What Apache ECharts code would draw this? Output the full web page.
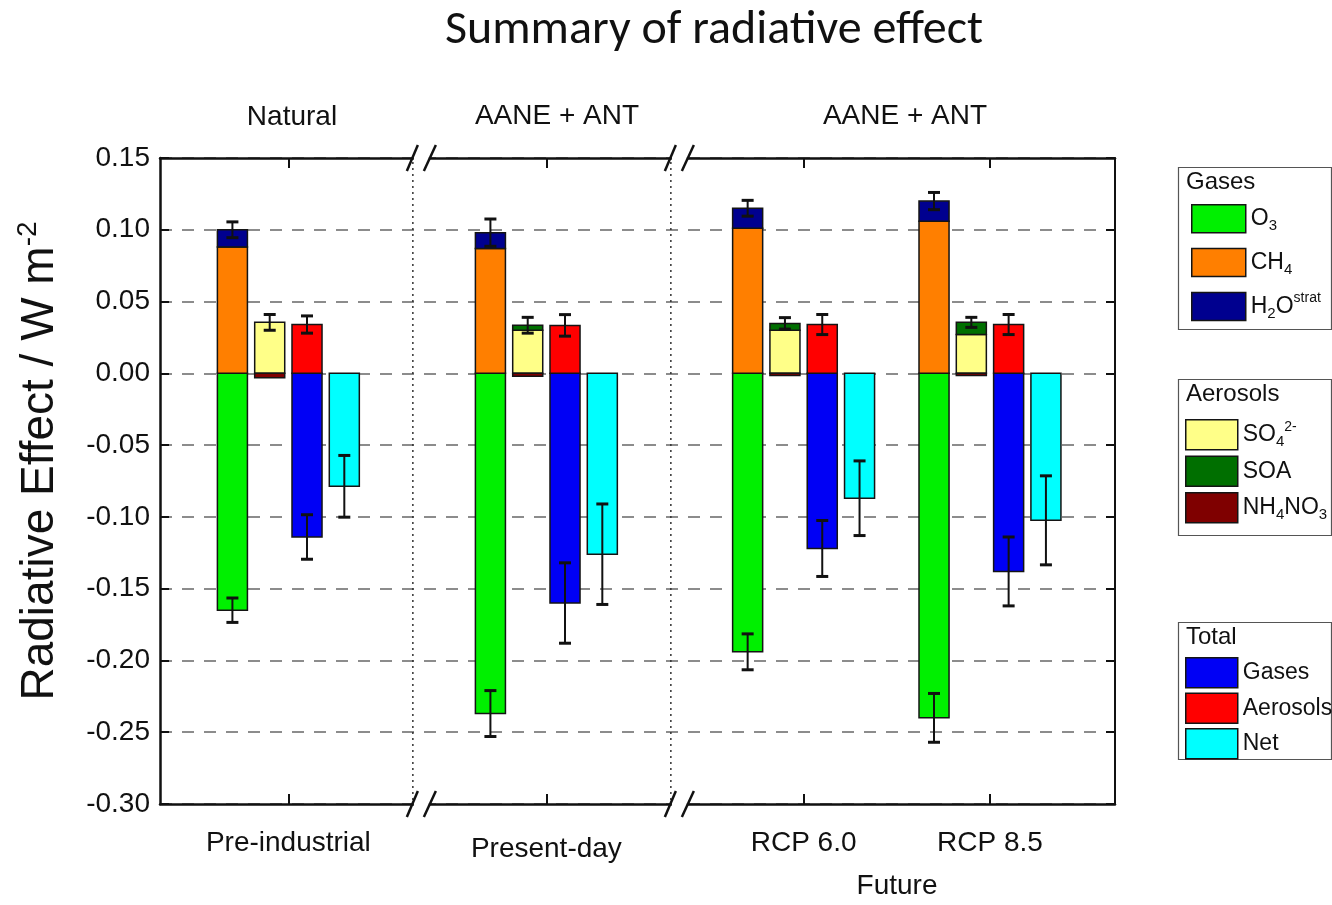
<!DOCTYPE html>
<html>
<head>
<meta charset="utf-8">
<script src="https://cdn.jsdelivr.net/npm/echarts@6/dist/echarts.min.js"></script>
<style>
  html, body { margin: 0; padding: 0; background: #ffffff; }
  #chart { width: 1332px; height: 905px; }
</style>
</head>
<body>
<div id="chart"></div>
<script>
// ---- Data (radiative effect, W m-2) ----
const scenarios = ['Pre-industrial', 'Present-day', 'RCP 6.0', 'RCP 8.5'];
const periodLabels = ['Natural', 'AANE + ANT', 'AANE + ANT'];
const futureLabel = 'Future';

// gas-phase species
const o3 = [-0.165, -0.237, -0.194, -0.240];
const o3Err = [0.0085, 0.016, 0.0125, 0.017];
const ch4 = [0.088, 0.087, 0.101, 0.106];
const h2oStrat = [0.012, 0.011, 0.014, 0.014];
const gasPositiveErr = [0.0055, 0.0095, 0.0055, 0.006];

// aerosol species
const so4 = [0.0355, 0.030, 0.030, 0.027];
const soa = [0, 0.0035, 0.0048, 0.0085];
const nh4no3 = [-0.003, -0.002, -0.0015, -0.0015];
const aerosolSpeciesErr = [0.0055, 0.0055, 0.004, 0.0035];

// totals
const gasTotal = [-0.114, -0.160, -0.122, -0.138];
const gasTotalErr = [0.0155, 0.028, 0.0195, 0.024];
const aerosolTotal = [0.034, 0.0334, 0.034, 0.034];
const aerosolTotalErr = [0.006, 0.0075, 0.007, 0.007];
const netTotal = [-0.0787, -0.126, -0.087, -0.1024];
const netErr = [0.0215, 0.035, 0.026, 0.031];

// ---- Layout of the broken x axis (axis units) ----
const X_MAX = 3.72;
const GROUP_X = [0.5, 1.505, 2.507, 3.233];
const BREAK_X = [1.02, 2.025];
const SLOT_STEP = 0.1453;
const BAR_W = 0.117;
const Y_MIN = -0.30, Y_MAX = 0.15;

const FONT = '"Liberation Sans", Arial, sans-serif';

const COLORS = {
  o3: '#00f000', ch4: '#ff7f00', h2o: '#00008f',
  so4: '#ffff88', soa: '#006f00', nh4no3: '#7f0000',
  gas: '#0000f5', aer: '#ff0000', net: '#00ffff'
};

function slotCenter(i, slot) {
  return GROUP_X[i] + (slot - 1.5) * SLOT_STEP;
}

function barRenderer(slot, color) {
  return function (params, api) {
    const i = api.value(0);
    const lo = api.value(1), hi = api.value(2);
    if (hi - lo <= 0) return null;
    const c = slotCenter(i, slot);
    const p0 = api.coord([c - BAR_W / 2, hi]);
    const p1 = api.coord([c + BAR_W / 2, lo]);
    return {
      type: 'rect',
      shape: { x: p0[0], y: p0[1], width: p1[0] - p0[0], height: p1[1] - p0[1] },
      style: { fill: color, stroke: '#141414', lineWidth: 1.5 }
    };
  };
}

function barSeries(name, slot, color, lows, highs) {
  return {
    type: 'custom',
    name: name,
    coordinateSystem: 'cartesian2d',
    itemStyle: { color: color },
    encode: { x: 0, y: [1, 2] },
    data: scenarios.map((_, i) => [i, lows[i], highs[i]]),
    renderItem: barRenderer(slot, color),
    z: 3
  };
}

const zeros = scenarios.map(() => 0);
const gasTop = ch4.map((v, i) => v + h2oStrat[i]);
const aerTop = so4.map((v, i) => v + soa[i]);

// error bars: [scenario, slot, centre, half-width]
const errData = [];
scenarios.forEach((_, i) => {
  errData.push([i, 0, gasTop[i], gasPositiveErr[i]]);
  errData.push([i, 0, o3[i], o3Err[i]]);
  errData.push([i, 1, aerTop[i], aerosolSpeciesErr[i]]);
  errData.push([i, 2, aerosolTotal[i], aerosolTotalErr[i]]);
  errData.push([i, 2, gasTotal[i], gasTotalErr[i]]);
  errData.push([i, 3, netTotal[i], netErr[i]]);
});

function errRenderer(params, api) {
  const i = api.value(0), slot = api.value(1);
  const m = api.value(2), e = api.value(3);
  const c = slotCenter(i, slot);
  const top = api.coord([c, m + e]);
  const bot = api.coord([c, m - e]);
  const cap = 6;
  return {
    type: 'group',
    children: [
      { type: 'line', shape: { x1: top[0], y1: top[1], x2: bot[0], y2: bot[1] },
        style: { stroke: '#111', lineWidth: 2 } },
      { type: 'line', shape: { x1: top[0] - cap, y1: top[1], x2: top[0] + cap, y2: top[1] },
        style: { stroke: '#111', lineWidth: 3 } },
      { type: 'line', shape: { x1: bot[0] - cap, y1: bot[1], x2: bot[0] + cap, y2: bot[1] },
        style: { stroke: '#111', lineWidth: 3 } }
    ]
  };
}

// axis breaks: dotted separator plus "//" marks on both horizontal frame lines
function breakRenderer(params, api) {
  const bx = api.value(0);
  const x = api.coord([bx, 0])[0];
  const yT = api.coord([bx, Y_MAX])[1];
  const yB = api.coord([bx, Y_MIN])[1];
  const kids = [
    { type: 'line', shape: { x1: x - 9, y1: yT + 4, x2: x - 9, y2: yB - 4 },
      style: { stroke: '#333', lineWidth: 1.5, lineDash: [2, 4] } }
  ];
  [yT, yB].forEach(y => {
    kids.push({ type: 'rect', shape: { x: x - 8, y: y - 4, width: 15, height: 8 },
      style: { fill: '#fff' } });
    kids.push({ type: 'line', shape: { x1: x - 15, y1: y + 13, x2: x - 4, y2: y - 13 },
      style: { stroke: '#111', lineWidth: 2.5 } });
    kids.push({ type: 'line', shape: { x1: x + 2, y1: y + 13, x2: x + 14, y2: y - 13 },
      style: { stroke: '#111', lineWidth: 2.5 } });
  });
  return { type: 'group', children: kids };
}

const legendRich = {
  t: { fontSize: 23, fontFamily: FONT, color: '#111', lineHeight: 30 },
  sub: { fontSize: 15, fontFamily: FONT, color: '#111', lineHeight: 16, verticalAlign: 'bottom' },
  sup: { fontSize: 14, fontFamily: FONT, color: '#111', lineHeight: 14, verticalAlign: 'top' }
};
const legendText = {
  'O3': '{t|O}{sub|3}',
  'CH4': '{t|CH}{sub|4}',
  'H2O strat': '{t|H}{sub|2}{t|O}{sup|strat}',
  'SO4 2-': '{t|SO}{sub|4}{sup|2-}',
  'SOA': '{t|SOA}',
  'NH4NO3': '{t|NH}{sub|4}{t|NO}{sub|3}',
  'Gases total': '{t|Gases}',
  'Aerosols total': '{t|Aerosols}',
  'Net': '{t|Net}'
};
function makeLegend(names, left, top, w, h, gap) {
  return {
    data: names, left: left, top: top, orient: 'vertical',
    itemWidth: w, itemHeight: h, itemGap: gap, icon: 'rect',
    selectedMode: false,
    itemStyle: { borderColor: '#141414', borderWidth: 1.5 },
    formatter: name => legendText[name],
    textStyle: { rich: legendRich, padding: [0, 0, 0, 0] }
  };
}

function boxGraphic(x, y, w, h, title) {
  return [
    { type: 'rect', left: x, top: y, shape: { width: w, height: h },
      style: { fill: 'none', stroke: '#555', lineWidth: 1.2 }, silent: true },
    { type: 'text', left: x + 10, top: y + 5,
      style: { text: title, font: '24px ' + FONT, fill: '#111' }, silent: true }
  ];
}

function centredText(text, x, y) {
  return { type: 'text', x: x, y: y, silent: true,
    style: { text: text, font: '28px ' + FONT, fill: '#111', align: 'center', verticalAlign: 'middle' } };
}

const chart = echarts.init(document.getElementById('chart'), null, { renderer: 'canvas' });

chart.setOption({
  animation: false,
  backgroundColor: '#ffffff',
  title: {
    text: 'Summary of radiative effect',
    left: 709, top: 2, textAlign: 'center',
    textStyle: { fontFamily: 'Carlito, Lato, sans-serif', fontSize: 48, fontWeight: 'normal', color: '#111' }
  },
  grid: { left: 160, right: 217, top: 158, bottom: 101 },
  xAxis: [
    {
      type: 'value', min: 0, max: X_MAX, position: 'bottom',
      axisLine: { show: true, onZero: false, lineStyle: { color: '#111', width: 2.5 } },
      axisTick: { show: true, inside: true, length: 10, customValues: GROUP_X,
                  lineStyle: { color: '#111', width: 2 } },
      axisLabel: {
        show: true, customValues: GROUP_X, margin: 25,
        fontFamily: FONT, fontSize: 28, color: '#111',
        rich: { low: { fontFamily: FONT, fontSize: 28, color: '#111', padding: [6, 0, 0, 0] } },
        formatter: v => {
          const k = GROUP_X.findIndex(g => Math.abs(g - v) < 1e-6);
          if (k < 0) return '';
          return k === 1 ? '{low|' + scenarios[k] + '}' : scenarios[k];
        }
      },
      splitLine: { show: false }
    },
    {
      type: 'value', min: 0, max: X_MAX, position: 'top',
      axisLine: { show: true, onZero: false, lineStyle: { color: '#111', width: 2.5 } },
      axisTick: { show: true, inside: true, length: 10, customValues: GROUP_X,
                  lineStyle: { color: '#111', width: 2 } },
      axisLabel: { show: false },
      splitLine: { show: false }
    }
  ],
  yAxis: [
    {
      type: 'value', min: Y_MIN, max: Y_MAX, interval: 0.05, position: 'left',
      name: '{a|Radiative Effect / W m}{s|-2}',
      nameLocation: 'middle', nameGap: 94, nameRotate: 90,
      nameTextStyle: {
        padding: [0, 0, 0, 40],
        rich: {
          a: { fontFamily: FONT, fontSize: 46, color: '#111', lineHeight: 52 },
          s: { fontFamily: FONT, fontSize: 28, color: '#111', lineHeight: 28, verticalAlign: 'top' }
        }
      },
      axisLine: { show: true, onZero: false, lineStyle: { color: '#111', width: 2.5 } },
      axisTick: { show: true, inside: true, length: 9, lineStyle: { color: '#111', width: 2 } },
      axisLabel: { fontFamily: FONT, fontSize: 28, color: '#111', margin: 10,
                   formatter: v => v.toFixed(2) },
      splitLine: { show: true, lineStyle: { color: '#8c8c8c', width: 2, type: [12, 10] } }
    },
    {
      type: 'value', min: Y_MIN, max: Y_MAX, interval: 0.05, position: 'right',
      axisLine: { show: true, onZero: false, lineStyle: { color: '#111', width: 2 } },
      axisTick: { show: true, inside: true, length: 9, lineStyle: { color: '#111', width: 2 } },
      axisLabel: { show: false },
      splitLine: { show: false }
    }
  ],
  legend: [
    makeLegend(['O3', 'CH4', 'H2O strat'], 1186, 199, 54, 28, 14),
    makeLegend(['SO4 2-', 'SOA', 'NH4NO3'], 1180, 414, 52, 30, 5),
    makeLegend(['Gases total', 'Aerosols total', 'Net'], 1180, 652, 52, 30, 4)
  ],
  graphic: [
    ...boxGraphic(1176, 165, 153, 162, 'Gases'),
    ...boxGraphic(1176, 377, 153, 156, 'Aerosols'),
    ...boxGraphic(1176, 620, 153, 137, 'Total'),
    centredText(periodLabels[0], 292, 117),
    centredText(periodLabels[1], 557, 116),
    centredText(periodLabels[2], 905, 116),
    centredText(futureLabel, 897, 886)
  ],
  series: [
    barSeries('O3', 0, COLORS.o3, o3, zeros),
    barSeries('CH4', 0, COLORS.ch4, zeros, ch4),
    barSeries('H2O strat', 0, COLORS.h2o, ch4, gasTop),
    barSeries('SO4 2-', 1, COLORS.so4, zeros, so4),
    barSeries('SOA', 1, COLORS.soa, so4, aerTop),
    barSeries('NH4NO3', 1, COLORS.nh4no3, nh4no3, zeros),
    barSeries('Gases total', 2, COLORS.gas, gasTotal, zeros),
    barSeries('Aerosols total', 2, COLORS.aer, zeros, aerosolTotal),
    barSeries('Net', 3, COLORS.net, netTotal, zeros),
    {
      type: 'custom', name: 'error', coordinateSystem: 'cartesian2d',
      encode: { x: 0, y: 2 }, data: errData, renderItem: errRenderer, z: 5, silent: true
    },
    {
      type: 'custom', name: 'breaks', coordinateSystem: 'cartesian2d', clip: false,
      encode: { x: 0 }, data: BREAK_X.map(b => [b]), renderItem: breakRenderer, z: 6, silent: true
    }
  ]
});
</script>
</body>
</html>
